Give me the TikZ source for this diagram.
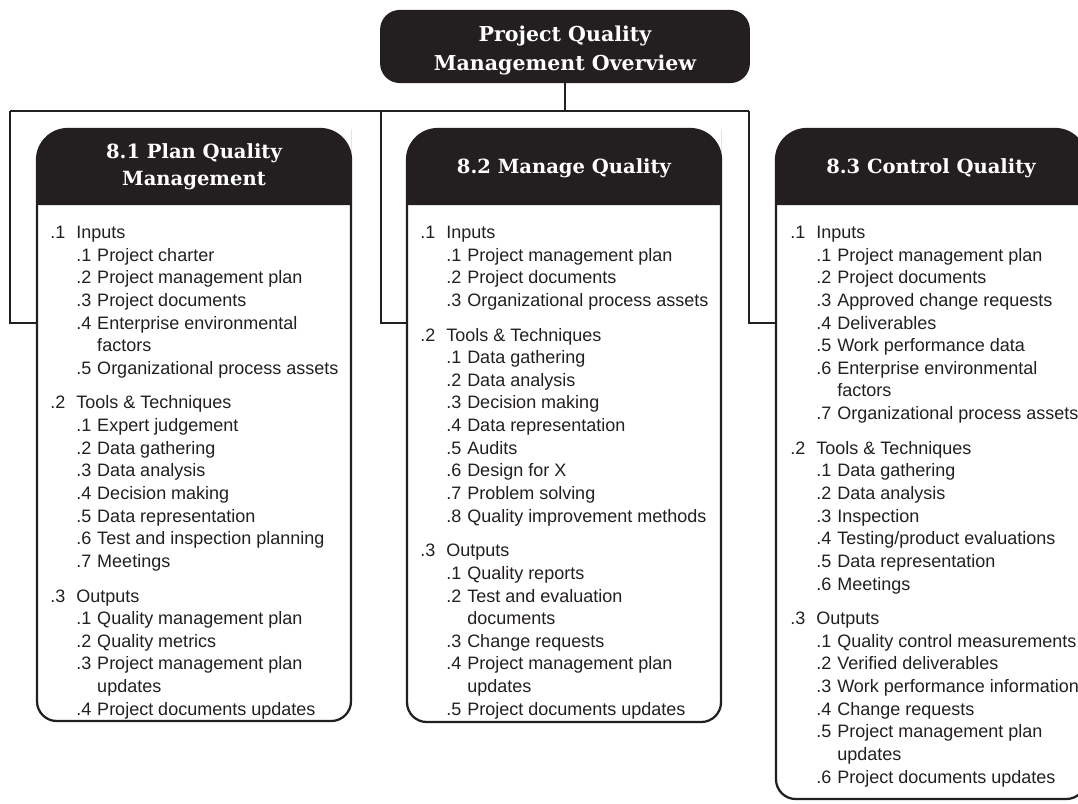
\documentclass[tikz,border=0pt]{standalone}
\usepackage{fontspec}
\setmainfont{Liberation Sans}
\newfontfamily\headfont{DejaVu Serif}
\usepackage{array}
\usetikzlibrary{positioning}

\definecolor{inkblack}{RGB}{35,31,32}

% rows of the lists
\newcommand{\grp}[2]{#1 & \multicolumn{2}{@{}l@{}}{#2}\\}
\newcommand{\itm}[2]{& #1 & #2\\}
\newcommand{\wrp}[1]{& & #1\\}
\newcommand{\gap}{\noalign{\vskip8.5pt}}

\tikzset{
  headbox/.style={fill=inkblack},
  frame/.style={draw=inkblack, line width=1.6pt},
  conn/.style={draw=inkblack, line width=1.4pt},
  topbox/.style={fill=inkblack, rounded corners=14pt, minimum width=263pt, minimum height=52pt,
    text=white, align=center, font=\headfont\bfseries\fontsize{14.6}{19.9}\selectfont},
  headtext/.style={text=white, align=center, inner sep=0pt,
    font=\headfont\bfseries\fontsize{13.9}{19.2}\selectfont},
  bodytext/.style={text=inkblack, inner sep=0pt, anchor=base west,
    font=\fontsize{12.8}{16.1}\selectfont},
}

\begin{document}
\begin{tikzpicture}[x=0.025cm, y=-0.025cm]
  \useasboundingbox (0,0) rectangle (1078,803);
  \clip (0,0) rectangle (1078,803);

  % overview
  \node[topbox] (pqm) at (565,46.5) {\raisebox{-3pt}[\height][\depth]{\shortstack{Project Quality\\[3.2pt]Management Overview}}};

  % 8.1
  \fill[headbox] (37,205) -- (37,160) [rounded corners=22] -- (37,129) -- (351,129) -- (351,160) [sharp corners] -- (351,205) -- cycle;
  \draw[frame] (37,160) [rounded corners=22] -- (37,129) -- (351,129) -- (351,400) [rounded corners=14] -- (351,721) -- (37,721) -- (37,400) [sharp corners] -- cycle;
  \node[headtext] (plan) at (194,167) {8.1 Plan Quality\\Management};
  \coordinate (plan-in) at (37,323);

  % 8.2
  \fill[headbox] (407,205) -- (407,160) [rounded corners=22] -- (407,129) -- (721,129) -- (721,160) [sharp corners] -- (721,205) -- cycle;
  \draw[frame] (407,160) [rounded corners=22] -- (407,129) -- (721,129) -- (721,400) [rounded corners=14] -- (721,722) -- (407,722) -- (407,400) [sharp corners] -- cycle;
  \node[headtext] (manage) at (564,168) {8.2 Manage Quality};
  \coordinate (manage-in) at (407,323);

  % 8.3
  \fill[headbox] (776,205) -- (776,160) [rounded corners=22] -- (776,129) -- (1086,129) -- (1086,160) [sharp corners] -- (1086,205) -- cycle;
  \draw[frame] (776,160) [rounded corners=22] -- (776,129) -- (1086,129) -- (1086,400) [rounded corners=14] -- (1086,799) -- (776,799) -- (776,400) [sharp corners] -- cycle;
  \node[headtext] (control) at (931,168) {8.3 Control Quality};
  \coordinate (control-in) at (776,323);

  % connectors
  \coordinate (bus-l) at (10,111);
  \coordinate (bus-m) at (381,111);
  \coordinate (bus-r) at (749,111);
  \draw[conn] (pqm.south) -- (pqm.south |- bus-l);
  \draw[conn] (bus-l) -- (bus-r);
  \draw[conn] (bus-l) |- (plan-in);
  \draw[conn] (bus-m) |- (manage-in);
  \draw[conn] (bus-r) |- (control-in);

  % lists
  \node[bodytext] (plan-body) at (50,238.5) {\begin{tabular}[t]{@{}p{18.5pt}@{}p{14.9pt}@{}l@{}}
    \grp{.1}{Inputs}
    \itm{.1}{Project charter}
    \itm{.2}{Project management plan}
    \itm{.3}{Project documents}
    \itm{.4}{Enterprise environmental}
    \wrp{factors}
    \itm{.5}{Organizational process assets}
    \gap
    \grp{.2}{Tools \& Techniques}
    \itm{.1}{Expert judgement}
    \itm{.2}{Data gathering}
    \itm{.3}{Data analysis}
    \itm{.4}{Decision making}
    \itm{.5}{Data representation}
    \itm{.6}{Test and inspection planning}
    \itm{.7}{Meetings}
    \gap
    \grp{.3}{Outputs}
    \itm{.1}{Quality management plan}
    \itm{.2}{Quality metrics}
    \itm{.3}{Project management plan}
    \wrp{updates}
    \itm{.4}{Project documents updates}
  \end{tabular}};

  \node[bodytext] (manage-body) at (420,238.5) {\begin{tabular}[t]{@{}p{18.5pt}@{}p{14.9pt}@{}l@{}}
    \grp{.1}{Inputs}
    \itm{.1}{Project management plan}
    \itm{.2}{Project documents}
    \itm{.3}{Organizational process assets}
    \gap
    \grp{.2}{Tools \& Techniques}
    \itm{.1}{Data gathering}
    \itm{.2}{Data analysis}
    \itm{.3}{Decision making}
    \itm{.4}{Data representation}
    \itm{.5}{Audits}
    \itm{.6}{Design for X}
    \itm{.7}{Problem solving}
    \itm{.8}{Quality improvement methods}
    \gap
    \grp{.3}{Outputs}
    \itm{.1}{Quality reports}
    \itm{.2}{Test and evaluation}
    \wrp{documents}
    \itm{.3}{Change requests}
    \itm{.4}{Project management plan}
    \wrp{updates}
    \itm{.5}{Project documents updates}
  \end{tabular}};

  \node[bodytext] (control-body) at (790,238.5) {\begin{tabular}[t]{@{}p{18.5pt}@{}p{14.9pt}@{}l@{}}
    \grp{.1}{Inputs}
    \itm{.1}{Project management plan}
    \itm{.2}{Project documents}
    \itm{.3}{Approved change requests}
    \itm{.4}{Deliverables}
    \itm{.5}{Work performance data}
    \itm{.6}{Enterprise environmental}
    \wrp{factors}
    \itm{.7}{Organizational process assets}
    \gap
    \grp{.2}{Tools \& Techniques}
    \itm{.1}{Data gathering}
    \itm{.2}{Data analysis}
    \itm{.3}{Inspection}
    \itm{.4}{Testing/product evaluations}
    \itm{.5}{Data representation}
    \itm{.6}{Meetings}
    \gap
    \grp{.3}{Outputs}
    \itm{.1}{Quality control measurements}
    \itm{.2}{Verified deliverables}
    \itm{.3}{Work performance information}
    \itm{.4}{Change requests}
    \itm{.5}{Project management plan}
    \wrp{updates}
    \itm{.6}{Project documents updates}
  \end{tabular}};
\end{tikzpicture}
\end{document}
